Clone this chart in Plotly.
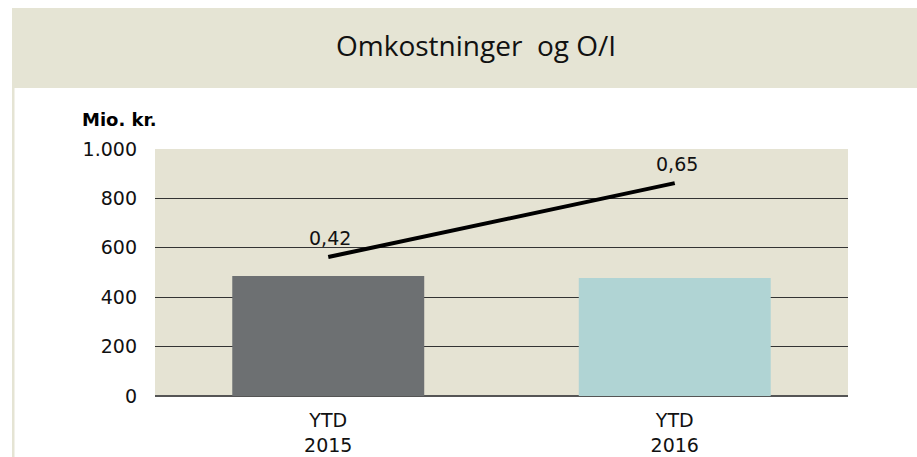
import plotly.graph_objects as go

categories = ["YTD<br>2015", "YTD<br>2016"]
costs = [486, 478]
oi_ratio = [0.42, 0.65]
oi_labels = ["0,42", "0,65"]
bar_colors = ["#6D7072", "#B0D4D4"]
title_text = "Omkostninger&nbsp; og O/I"
unit_label = "Mio. kr."

W, H = 917, 457
L, R, T, B = 155, 69, 149, 61
pw, ph = W - L - R, H - T - B

def px(x):
    return (x - L) / pw

def py(y):
    return (H - B - y) / ph

fig = go.Figure()
fig.add_trace(go.Bar(
    x=categories, y=costs, marker=dict(color=bar_colors, line=dict(width=0)),
    width=0.554, hoverinfo="skip",
))
fig.add_trace(go.Scatter(
    x=categories, y=oi_ratio, yaxis="y2", mode="lines",
    line=dict(color="#000000", width=4),
    hoverinfo="skip",
))

beige = "#E5E4D4"
shapes = [
    dict(type="rect", xref="paper", yref="paper", x0=px(12), x1=px(917), y0=py(88), y1=py(8),
         fillcolor=beige, line=dict(width=0), layer="below"),
    dict(type="rect", xref="paper", yref="paper", x0=px(12), x1=px(14.5), y0=py(457), y1=py(88),
         fillcolor=beige, line=dict(width=0), layer="below"),
]

annotations = [
    dict(text=title_text, xref="paper", yref="paper", x=px(476), y=py(45),
         xanchor="center", yanchor="middle", showarrow=False,
         font=dict(family="Open Sans", size=28, color="#111111")),
    dict(text="<b>" + unit_label + "</b>", xref="paper", yref="paper", x=px(80), y=py(120),
         xanchor="left", yanchor="middle", showarrow=False,
         font=dict(family="DejaVu Sans", size=18, color="#000000")),
]
for c, v, t in zip(categories, oi_ratio, oi_labels):
    annotations.append(dict(text=t, x=c, y=v, xref="x", yref="y2", showarrow=False,
                            xanchor="center", yanchor="middle", yshift=19, xshift=2,
                            font=dict(family="DejaVu Sans", size=19, color="#111111")))

fig.update_layout(
    width=W, height=H,
    margin=dict(l=L, r=R, t=T, b=B, pad=0, autoexpand=False),
    paper_bgcolor="white", plot_bgcolor="#E5E3D3",
    separators=",.",
    showlegend=False, bargap=0.446,
    shapes=shapes,
    font=dict(family="DejaVu Sans", size=19, color="#111111"),
    xaxis=dict(showgrid=False, showline=False, ticks="", tickfont=dict(size=19),
               ticklabelstandoff=11, fixedrange=True, automargin=False),
    yaxis=dict(range=[0, 1000], dtick=200, tickformat=",d", showgrid=True,
               gridcolor="#333333", gridwidth=1, zeroline=True, zerolinecolor="#555555",
               zerolinewidth=2, showline=False, ticks="", ticklabelstandoff=17,
               tickfont=dict(size=19), fixedrange=True, automargin=False),
    yaxis2=dict(range=[-0.012, 0.756], overlaying="y", side="right", visible=False),
    annotations=annotations,
)

fig.write_html("out.html", post_script="document.body.style.margin='0';",
               config={"displayModeBar": False, "staticPlot": True})
